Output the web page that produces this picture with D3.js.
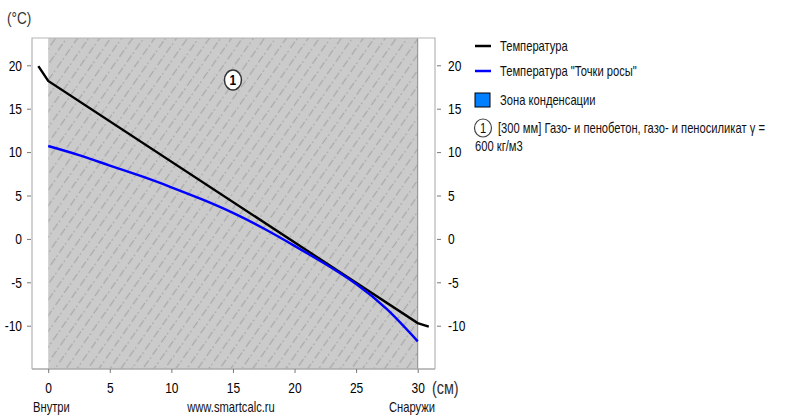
<!DOCTYPE html>
<html><head><meta charset="utf-8">
<script src="https://cdn.jsdelivr.net/npm/d3@7"></script>
<style>
body{margin:0;background:#fff;}
svg{font-family:"Liberation Sans",Arial,sans-serif;}
</style></head>
<body><svg id="c" width="788" height="415"></svg>
<script>
// Data
const tempX = [-0.8, 0, 30, 30.9];
const tempY = [19.9, 18.2, -9.7, -10.1];
const dewX = [0, 2.5, 5, 7.5, 10, 12.5, 15, 17.5, 20, 22.5, 25, 27.5, 30];
const dewY = [10.7, 9.65, 8.45, 7.25, 5.95, 4.55, 3.0, 1.2, -0.8, -2.9, -5.2, -8.1, -11.8];
const xTicks = [0, 5, 10, 15, 20, 25, 30];
const yTicks = [20, 15, 10, 5, 0, -5, -10];
const layerStart = [0];
const layerEnd = [30];
const layerNames = ["1"];
const legendItems = ["Температура", "Температура \"Точки росы\"", "Зона конденсации"];
const layerDesc = ["[300 мм] Газо- и пенобетон, газо- и пеносиликат γ =", "600 кг/м3"];

const K = 0.8; // horizontal condensing of text
const svg = d3.select("#c");
const L = 32, R = 435, T = 38, B = 369;
const x = d3.scaleLinear().domain([0, 30]).range([48.2, 417.7]);
const y = d3.scaleLinear().domain([20, -10]).range([65.3, 325.7]);

function txt(parent, tx, ty, s, size, anchor, fill) {
  return parent.append("text")
    .attr("transform", `translate(${tx},${ty}) scale(${K},1)`)
    .attr("font-size", size).attr("text-anchor", anchor || "start")
    .attr("fill", fill || "#111").text(s);
}

const defs = svg.append("defs");
const pat = defs.append("pattern").attr("id", "hatch").attr("patternUnits", "userSpaceOnUse")
  .attr("width", 9).attr("height", 15).attr("patternTransform", "rotate(35)");
pat.append("rect").attr("width", 9).attr("height", 15).attr("fill", "#cbcbcb");
pat.append("line").attr("x1", 4.5).attr("x2", 4.5).attr("y1", 0).attr("y2", 8)
  .attr("stroke", "#a9a9a9").attr("stroke-width", 1.2);
pat.append("rect").attr("x", 4).attr("y", 11.5).attr("width", 1.2).attr("height", 1.2).attr("fill", "#9a9a9a");

svg.append("rect").attr("x", L).attr("y", T).attr("width", R - L).attr("height", B - T)
  .attr("fill", "#fff").attr("stroke", "none");
svg.selectAll("rect.layer").data(layerStart).enter().append("rect").attr("class", "layer")
  .attr("x", (d) => x(d)).attr("y", T).attr("width", (d, i) => x(layerEnd[i]) - x(d)).attr("height", B - T)
  .attr("fill", "url(#hatch)");
svg.selectAll("line.lb").data(layerEnd).enter().append("line").attr("class","lb")
  .attr("x1", d=>x(d)).attr("x2", d=>x(d)).attr("y1", T).attr("y2", B)
  .attr("stroke", "#8c8c8c").attr("stroke-width", 1);
svg.append("path").attr("d", `M${L},${B}V${T}H${R}V${B}`)
  .attr("fill", "none").attr("stroke", "#b5b5b5").attr("stroke-width", 1.2);
svg.append("line").attr("x1", L).attr("x2", R).attr("y1", B).attr("y2", B)
  .attr("stroke", "#aaa").attr("stroke-width", 1.5);

const fmt = d => String(d);
const yl = svg.append("g").attr("transform", `translate(${L - 1},0)`)
  .call(d3.axisLeft(y).tickValues(yTicks).tickSize(4).tickPadding(5).tickFormat(fmt));
const yr = svg.append("g").attr("transform", `translate(${R + 2},0)`)
  .call(d3.axisRight(y).tickValues(yTicks).tickSize(4).tickPadding(7).tickFormat(fmt));
const xa = svg.append("g").attr("transform", `translate(0,${B})`)
  .call(d3.axisBottom(x).tickValues(xTicks).tickSize(4).tickPadding(9).tickFormat(fmt));
[yl, yr, xa].forEach(g => {
  g.select(".domain").remove();
  g.selectAll(".tick line").attr("stroke", "#777").attr("stroke-width", 1);
  g.selectAll(".tick text").attr("fill", "#000").attr("font-size", 15)
    .attr("font-family", "'Liberation Sans',Arial,sans-serif");
});
yl.selectAll(".tick text").each(function(){ const t=d3.select(this); const xx=+t.attr("x"); t.attr("x", xx/K).attr("transform", `scale(${K},1)`); });
yr.selectAll(".tick text").each(function(){ const t=d3.select(this); const xx=+t.attr("x"); t.attr("x", xx/K).attr("transform", `scale(${K},1)`); });
xa.selectAll(".tick text").attr("transform", `scale(${K},1)`);

const lineGen = d3.line().x(d => x(d[0])).y(d => y(d[1]));
svg.append("path").datum(tempX.map((v, i) => [v, tempY[i]]))
  .attr("d", lineGen).attr("fill", "none").attr("stroke", "#000").attr("stroke-width", 2.4);
svg.append("path").datum(dewX.map((v, i) => [v, dewY[i]]))
  .attr("d", d3.line().x(d => x(d[0])).y(d => y(d[1])).curve(d3.curveNatural))
  .attr("fill", "none").attr("stroke", "#0000ff").attr("stroke-width", 2.4);

svg.selectAll("g.ln").data(layerNames).enter().append("g").attr("class","ln")
  .attr("transform", (d,i) => `translate(${(x(layerStart[i]) + x(layerEnd[i])) / 2},80)`)
  .each(function(d){
    const g = d3.select(this);
    g.append("ellipse").attr("rx", 8.5).attr("ry", 10).attr("fill", "#fff").attr("stroke", "#333").attr("stroke-width", 1.5);
    txt(g, 0, 5, d, 15, "middle", "#000").attr("font-weight", "bold");
  });

txt(svg, 7, 24, "(°C)", 17, "start", "#333");
txt(svg, 432, 394, "(см)", 18, "start", "#333");
txt(svg, 33, 412, "Внутри", 14);
txt(svg, 231, 412, "www.smartcalc.ru", 14, "middle");
txt(svg, 435, 412, "Снаружи", 14, "end");

const lg = svg.append("g");
lg.append("line").attr("x1", 475).attr("x2", 491).attr("y1", 46).attr("y2", 46).attr("stroke", "#000").attr("stroke-width", 2.5);
lg.append("line").attr("x1", 475).attr("x2", 491).attr("y1", 71).attr("y2", 71).attr("stroke", "#0000ff").attr("stroke-width", 2.5);
lg.append("rect").attr("x", 475).attr("y", 93).attr("width", 15).attr("height", 14).attr("fill", "#0080ff").attr("stroke", "#000").attr("stroke-width", 1);
[46, 71, 100].forEach((yy, i) => txt(lg, 500, yy + 5, legendItems[i], 14));
lg.append("ellipse").attr("cx", 483).attr("cy", 128).attr("rx", 8.5).attr("ry", 9).attr("fill", "#fff").attr("stroke", "#444").attr("stroke-width", 1.2);
txt(lg, 483, 133, layerNames[0], 14, "middle");
txt(lg, 498, 133, layerDesc[0], 14);
txt(lg, 475, 151, layerDesc[1], 14);
</script></body></html>
